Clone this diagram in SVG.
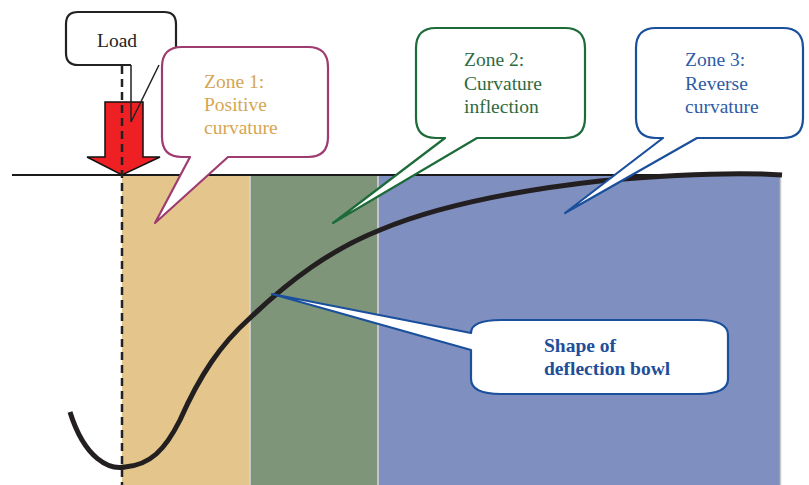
<svg xmlns="http://www.w3.org/2000/svg" width="809" height="485" viewBox="0 0 809 485">
<style>
.t{font-family:"Liberation Serif","Times New Roman",serif;font-size:19.5px}
.call{fill:#fff;stroke-width:2.2;stroke-linejoin:round}
</style>
<rect width="809" height="485" fill="#fff"/>
<g id="zones">
<rect x="122" y="175" width="128" height="310" fill="#E4C68C"/>
<rect x="250" y="175" width="128" height="310" fill="#7E957A"/>
<rect x="378" y="175" width="402" height="310" fill="#7F8FC0"/>
<line x1="250" y1="175" x2="250" y2="485" stroke="#d8d8d8" stroke-width="1.5"/>
<line x1="378" y1="175" x2="378" y2="485" stroke="#d8d8d8" stroke-width="1.5"/>
<line x1="780.5" y1="175" x2="780.5" y2="485" stroke="#c8c8c8" stroke-width="1.5"/>
</g>
<g id="ground"><line x1="12" y1="175" x2="780" y2="175" stroke="#1a1a1a" stroke-width="2"/></g>
<g id="curve"><path d="M70,412 C85,460 110,470 125,467 C150,465 165,450 180,420 C200,375 220,345 250,318 C290,280 330,250 380,230 C440,205 520,190 600,181 C680,174 740,172 782,175" fill="none" stroke="#231f20" stroke-width="5" stroke-linecap="butt"/></g>
<g id="load">
<path d="M131,65 H78 Q66,65 66,53 V24 Q66,12 78,12 H164 Q176,12 176,24 V60" class="call" stroke="#222" stroke-width="1.5"/>
<text x="97" y="47" class="t" fill="#222">Load</text>
</g>
<g id="arrow"><path d="M105,102 H143 V157 H160 L122,175 L87,157 H105 Z" fill="#EE2024" stroke="#111" stroke-width="1.5" stroke-linejoin="miter"/></g>
<g id="connectors">
<path d="M131,65 V122 L159,65" fill="none" stroke="#222" stroke-width="1.5"/>
<line x1="122" y1="66" x2="122" y2="485" stroke="#222" stroke-width="2.5" stroke-dasharray="8,5"/>
</g>
<g id="zone1">
<path d="M182,47 H308 Q328,47 328,67 V137 Q328,157 308,157 H228 L155,223 L190,157 H182 Q162,157 162,137 V67 Q162,47 182,47 Z" class="call" stroke="#9E3C70"/>
<text class="t" fill="#D6A653"><tspan x="204" y="88">Zone 1:</tspan><tspan x="204" y="111">Positive</tspan><tspan x="204" y="134">curvature</tspan></text>
</g>
<g id="zone2">
<path d="M436,28 H565 Q585,28 585,48 V118 Q585,138 565,138 H477 L333,223 L445,138 H436 Q416,138 416,118 V48 Q416,28 436,28 Z" class="call" stroke="#1E6B3A"/>
<text class="t" fill="#2D6B3F"><tspan x="464" y="66">Zone 2:</tspan><tspan x="464" y="90">Curvature</tspan><tspan x="464" y="113">inflection</tspan></text>
</g>
<g id="zone3">
<path d="M656,28 H783 Q803,28 803,48 V118 Q803,138 783,138 H697 L565,213 L663,138 H656 Q636,138 636,118 V48 Q636,28 656,28 Z" class="call" stroke="#1A4F9C"/>
<text class="t" fill="#2E5BA6"><tspan x="685" y="66">Zone 3:</tspan><tspan x="685" y="90">Reverse</tspan><tspan x="685" y="113">curvature</tspan></text>
</g>
<g id="shape">
<path d="M501,320 H698 Q728,320 728,335 V379 Q728,394 698,394 H501 Q471,394 471,379 V350 L272,294 L471,333 Q471,320 501,320 Z" class="call" stroke="#1A4F9C" stroke-width="2.5"/>
<text class="t" fill="#1F4E99" font-weight="bold" font-size="21"><tspan x="544" y="352">Shape of</tspan><tspan x="544" y="375">deflection bowl</tspan></text>
</g>
</svg>
